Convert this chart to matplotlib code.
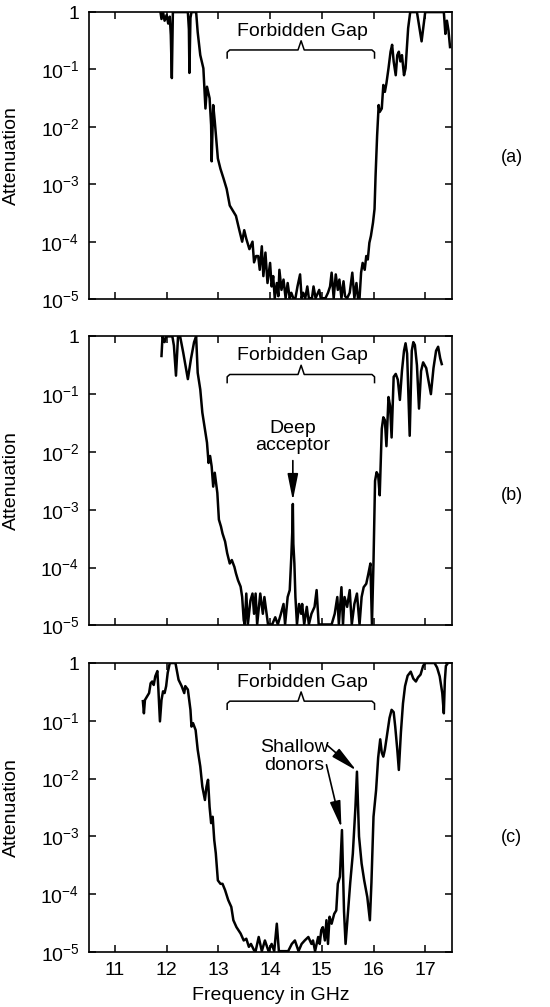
import numpy as np
from matplotlib import pyplot as plt
from matplotlib.ticker import NullLocator

plt.rcParams['font.family'] = ['Liberation Sans', 'DejaVu Sans']
plt.rcParams['mathtext.fontset'] = 'custom'
plt.rcParams['mathtext.rm'] = 'Liberation Sans'
plt.rcParams['mathtext.it'] = 'Liberation Sans'

# (frequency in GHz, log10 of attenuation)
# -5 means the trace sits on the bottom of the axis
trace_a = [
    (11.88, 0), (11.90, -0.12), (11.93, 0), (11.96, -0.15), (12.00, -0.05),
    (12.03, -0.2), (12.06, -0.08), (12.08, -0.4), (12.10, -1.15), (12.12, 0),
    (12.41, 0), (12.43, -0.3), (12.44, -1.06), (12.46, -0.1), (12.48, 0),
    (12.57, 0), (12.60, -0.35), (12.65, -0.75), (12.71, -0.98), (12.75, -1.68),
    (12.78, -1.3), (12.83, -1.5), (12.86, -1.97), (12.87, -2.6), (12.90, -1.62),
    (12.93, -1.9), (12.99, -2.55), (13.04, -2.73), (13.10, -2.9), (13.16, -3.08),
    (13.22, -3.37), (13.28, -3.46), (13.34, -3.55), (13.40, -3.78), (13.46, -4.0),
    (13.50, -3.8), (13.54, -3.95), (13.60, -4.13), (13.66, -4.0), (13.69, -4.36),
    (13.73, -4.25), (13.77, -4.25), (13.80, -4.49), (13.84, -4.08), (13.87, -4.6),
    (13.91, -4.19), (13.95, -4.72), (14.00, -4.37), (14.03, -4.78), (14.06, -4.6),
    (14.09, -5.0), (14.13, -4.72), (14.16, -4.95), (14.18, -4.49), (14.22, -4.84),
    (14.26, -4.66), (14.30, -5.0), (14.34, -4.72), (14.38, -5.0), (14.41, -4.89),
    (14.45, -5.0), (14.49, -5.0), (14.53, -4.78), (14.58, -4.57), (14.61, -5.0),
    (14.64, -4.89), (14.68, -5.0), (14.72, -4.78), (14.75, -5.0), (14.81, -5.0),
    (14.84, -4.78), (14.88, -5.0), (14.95, -4.84), (14.98, -5.0), (15.01, -5.0),
    (15.07, -5.0), (15.12, -4.89), (15.16, -4.78), (15.19, -4.54), (15.23, -5.0),
    (15.27, -4.57), (15.31, -4.84), (15.34, -4.66), (15.38, -5.0), (15.42, -4.69),
    (15.45, -4.95), (15.49, -5.0), (15.54, -4.89), (15.59, -4.54), (15.63, -5.0),
    (15.67, -4.72), (15.70, -5.0), (15.73, -5.0), (15.76, -4.54), (15.79, -4.37),
    (15.83, -4.49), (15.86, -4.25), (15.89, -4.31), (15.92, -4.02), (15.95, -3.9),
    (15.99, -3.67), (16.02, -3.43), (16.04, -2.85), (16.07, -2.15), (16.10, -1.62),
    (16.12, -1.74), (16.16, -1.68), (16.19, -1.27), (16.22, -1.39), (16.25, -1.24),
    (16.29, -0.98), (16.33, -0.69), (16.36, -0.57), (16.39, -0.86), (16.43, -1.1),
    (16.46, -0.75), (16.49, -0.69), (16.52, -0.86), (16.55, -0.75), (16.59, -1.1),
    (16.62, -0.98), (16.67, -0.28), (16.71, 0), (16.84, 0), (16.89, -0.28),
    (16.93, -0.51), (16.97, -0.22), (17.00, 0), (17.36, 0), (17.39, -0.38),
    (17.42, -0.15), (17.45, -0.32), (17.48, -0.61),
]

trace_b = [
    (11.90, -0.34), (11.92, 0), (11.96, -0.10), (11.99, 0), (12.05, 0),
    (12.11, 0), (12.14, -0.16), (12.18, -0.68), (12.22, 0), (12.26, 0),
    (12.32, -0.28), (12.41, -0.74), (12.47, -0.39), (12.53, -0.10), (12.57, 0),
    (12.60, -0.63), (12.65, -0.92), (12.69, -1.32), (12.74, -1.61), (12.78, -1.84),
    (12.81, -2.19), (12.84, -2.07), (12.87, -2.25), (12.90, -2.6), (12.93, -2.36),
    (12.98, -2.71), (13.01, -3.17), (13.05, -3.29), (13.08, -3.41), (13.13, -3.55),
    (13.17, -3.75), (13.22, -3.93), (13.26, -3.87), (13.31, -3.99), (13.34, -4.1),
    (13.38, -4.22), (13.43, -4.33), (13.46, -4.51), (13.49, -4.91), (13.51, -5.0),
    (13.54, -4.45), (13.57, -5.0), (13.62, -4.57), (13.66, -4.45), (13.69, -4.8),
    (13.72, -4.45), (13.75, -5.0), (13.81, -4.45), (13.86, -4.8), (13.89, -4.51),
    (13.96, -5.0), (14.04, -5.0), (14.10, -4.86), (14.15, -5.0), (14.21, -4.8),
    (14.26, -4.63), (14.29, -5.0), (14.34, -4.51), (14.38, -4.39), (14.41, -3.82),
    (14.43, -3.36), (14.44, -2.9), (14.45, -3.59), (14.47, -3.93), (14.49, -4.51),
    (14.52, -5.0), (14.56, -4.63), (14.60, -4.8), (14.62, -4.63), (14.66, -5.0),
    (14.71, -4.68), (14.75, -5.0), (14.80, -4.8), (14.86, -4.68), (14.90, -4.39),
    (14.94, -5.0), (14.99, -5.0), (15.06, -5.0), (15.12, -5.0), (15.19, -5.0),
    (15.25, -4.8), (15.30, -4.51), (15.33, -5.0), (15.38, -4.34), (15.41, -5.0),
    (15.44, -4.51), (15.49, -4.68), (15.54, -4.39), (15.58, -5.0), (15.63, -4.63),
    (15.68, -4.45), (15.73, -5.0), (15.77, -4.51), (15.81, -4.34), (15.86, -4.28),
    (15.90, -4.11), (15.94, -3.93), (15.97, -5.0), (16.00, -3.9), (16.03, -2.5),
    (16.06, -2.35), (16.09, -2.4), (16.12, -2.75), (16.16, -1.6), (16.19, -1.4),
    (16.22, -1.45), (16.25, -1.9), (16.29, -1.05), (16.32, -1.2), (16.35, -1.75),
    (16.39, -0.7), (16.43, -0.65), (16.47, -0.75), (16.51, -1.1), (16.55, -0.6),
    (16.59, -0.25), (16.62, -0.12), (16.65, -0.3), (16.70, -1.72), (16.74, -0.25),
    (16.77, -0.1), (16.80, -0.15), (16.84, -0.5), (16.88, -1.25), (16.92, -0.6),
    (16.96, -0.45), (17.02, -0.55), (17.07, -0.8), (17.11, -1.0), (17.16, -0.55),
    (17.21, -0.25), (17.25, -0.18), (17.29, -0.38), (17.32, -0.48),
]

trace_c = [
    (11.54, -0.66), (11.56, -0.87), (11.58, -0.64), (11.62, -0.58), (11.66, -0.52),
    (11.69, -0.35), (11.72, -0.32), (11.75, -0.38), (11.78, -0.23), (11.82, -0.14),
    (11.84, -0.46), (11.87, -1.01), (11.90, -0.64), (11.93, -0.49), (11.96, -0.52),
    (11.99, -0.40), (12.02, -0.17), (12.06, 0), (12.17, 0), (12.23, -0.29),
    (12.29, -0.40), (12.34, -0.52), (12.36, -0.40), (12.41, -0.46), (12.46, -0.81),
    (12.48, -1.10), (12.51, -1.04), (12.56, -1.16), (12.60, -1.50), (12.65, -1.79),
    (12.69, -2.14), (12.74, -2.37), (12.77, -2.14), (12.80, -2.02), (12.83, -2.49),
    (12.86, -2.77), (12.89, -2.66), (12.92, -3.06), (12.95, -3.29), (12.99, -3.76),
    (13.04, -3.82), (13.08, -3.82), (13.13, -3.93), (13.19, -4.10), (13.25, -4.22),
    (13.29, -4.45), (13.35, -4.57), (13.43, -4.68), (13.49, -4.80), (13.54, -4.77),
    (13.59, -4.91), (13.63, -4.86), (13.69, -4.97), (13.72, -5.0), (13.78, -4.74),
    (13.84, -5.0), (13.90, -4.8), (13.97, -5.0), (14.03, -4.86), (14.08, -5.0),
    (14.13, -4.51), (14.17, -5.0), (14.23, -5.0), (14.29, -5.0), (14.35, -5.0),
    (14.42, -4.86), (14.48, -4.8), (14.55, -5.0), (14.61, -4.86), (14.67, -4.8),
    (14.74, -4.74), (14.80, -4.86), (14.83, -4.8), (14.87, -5.0), (14.93, -4.74),
    (14.96, -4.86), (14.99, -4.62), (15.02, -4.57), (15.06, -4.8), (15.09, -4.45),
    (15.12, -4.86), (15.15, -4.39), (15.19, -4.51), (15.24, -4.34), (15.28, -4.28),
    (15.31, -3.82), (15.35, -3.70), (15.39, -2.89), (15.43, -4.3), (15.46, -4.86),
    (15.50, -4.39), (15.55, -3.8), (15.60, -3.3), (15.65, -2.5), (15.68, -1.88),
    (15.72, -3.0), (15.77, -3.47), (15.82, -3.76), (15.88, -4.05), (15.93, -4.45),
    (15.96, -3.8), (16.00, -2.66), (16.05, -2.2), (16.09, -1.64), (16.13, -1.32),
    (16.16, -1.55), (16.19, -1.62), (16.22, -1.5), (16.27, -1.2), (16.31, -0.95),
    (16.35, -0.81), (16.39, -0.85), (16.42, -1.1), (16.46, -1.5), (16.49, -1.85),
    (16.53, -1.2), (16.57, -0.7), (16.61, -0.4), (16.66, -0.22), (16.72, -0.15),
    (16.77, -0.27), (16.82, -0.32), (16.86, -0.25), (16.91, -0.2), (16.96, -0.05),
    (17.00, 0), (17.18, 0), (17.23, -0.08), (17.28, -0.23), (17.33, -0.52),
    (17.36, -0.87), (17.38, -0.3), (17.40, -0.05), (17.44, 0),
]

panel_names = ['(a)', '(b)', '(c)']
ytick_exp = [0, -1, -2, -3, -4, -5]
ytick_labels = ['1', r'$10^{-1}$', r'$10^{-2}$', r'$10^{-3}$', r'$10^{-4}$', r'$10^{-5}$']
xticks = [11, 12, 13, 14, 15, 16, 17]

gap_lo, gap_hi, gap_mid = 13.17, 16.02, 14.6

fig = plt.figure(figsize=(5.5, 10.07), dpi=100)
boxes = [[0.162, 0.703, 0.660, 0.285],
         [0.162, 0.379, 0.660, 0.287],
         [0.162, 0.0546, 0.660, 0.287]]
label_y = [0.844, 0.508, 0.168]

axes = []
for i, (trace, box) in enumerate(zip([trace_a, trace_b, trace_c], boxes)):
    ax = fig.add_axes(box)
    f, e = np.array(trace).T
    # lift points lying on the bottom spine a hair so the trace shows there
    e = np.maximum(e, -4.985)
    ax.plot(f, 10.0 ** e, color='k', lw=1.8, solid_joinstyle='round', zorder=3)
    ax.set_yscale('log')
    ax.set_ylim(1e-5, 1)
    ax.set_xlim(10.5, 17.52)
    ax.set_yticks([10.0 ** k for k in ytick_exp])
    ax.set_yticklabels(ytick_labels)
    ax.yaxis.set_minor_locator(NullLocator())
    ax.set_xticks(xticks)
    ax.tick_params(direction='in', length=5, width=1.1, top=True, right=True,
                   labelsize=14, pad=7)
    for s in ax.spines.values():
        s.set_linewidth(1.2)
    ax.set_ylabel('Attenuation', fontsize=14)
    ax.yaxis.set_label_coords(-0.19, 0.5)
    if i < 2:
        ax.set_xticklabels([])

    # forbidden gap bracket
    bx = [gap_lo, gap_lo, gap_lo + 0.05, gap_mid - 0.06, gap_mid, gap_mid + 0.06,
          gap_hi - 0.05, gap_hi, gap_hi]
    by = [-0.80, -0.70, -0.66, -0.66, -0.50, -0.66, -0.66, -0.70, -0.80]
    ax.plot(bx, 10.0 ** np.array(by), color='k', lw=1.1)
    ax.text(14.62, 10 ** -0.33, 'Forbidden Gap', ha='center', va='center', fontsize=14)
    fig.text(0.93, label_y[i], panel_names[i], ha='center', va='center', fontsize=13)
    axes.append(ax)

head = dict(arrowstyle='-|>,head_length=0.9,head_width=0.18', color='k', lw=1.2,
            mutation_scale=18, shrinkA=0, shrinkB=0)

axes[1].text(14.44, 10 ** -1.74, 'Deep\nacceptor', ha='center', va='center',
             fontsize=14, linespacing=1.05)
axes[1].annotate('', xy=(14.44, 10 ** -2.84), xytext=(14.44, 10 ** -2.15),
                 arrowprops=head)

axes[2].text(14.47, 10 ** -1.62, 'Shallow\ndonors', ha='center', va='center',
             fontsize=14, linespacing=1.05)
axes[2].annotate('', xy=(15.67, 10 ** -1.86), xytext=(15.10, 10 ** -1.42),
                 arrowprops=head)
axes[2].annotate('', xy=(15.38, 10 ** -2.85), xytext=(15.09, 10 ** -1.76),
                 arrowprops=head)
axes[2].set_xlabel('Frequency in GHz', fontsize=14, labelpad=6)

plt.savefig('out.png', dpi=100)
